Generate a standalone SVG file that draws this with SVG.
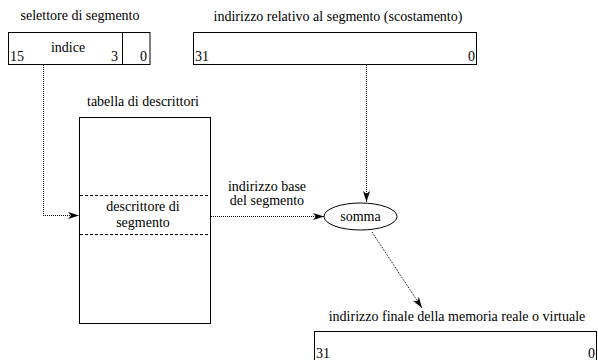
<svg xmlns="http://www.w3.org/2000/svg" width="598" height="360" viewBox="0 0 598 360">
<defs>
<marker id="ah" markerWidth="12" markerHeight="8" refX="11" refY="4" orient="auto" markerUnits="userSpaceOnUse">
<path d="M0,0.5 L11,4 L0,7.5 L3,4 z" fill="#000"/>
</marker>
</defs>
<rect width="598" height="360" fill="#fff"/>
<g id="selettore">
<text x="80" y="20" font-family="Liberation Serif" font-size="14" text-anchor="middle">selettore di segmento</text>
<rect x="8.5" y="32.5" width="141.5" height="32" fill="#fff" stroke="#000"/>
<line x1="122.5" y1="32.5" x2="122.5" y2="64.5" stroke="#000"/>
<text x="68" y="52" font-family="Liberation Serif" font-size="14" text-anchor="middle">indice</text>
<text x="10" y="61" font-family="Liberation Serif" font-size="14">15</text>
<text x="118" y="61" font-family="Liberation Serif" font-size="14" text-anchor="end">3</text>
<text x="147" y="61" font-family="Liberation Serif" font-size="14" text-anchor="end">0</text>
</g>
<g id="scostamento">
<text x="338" y="21" font-family="Liberation Serif" font-size="14" text-anchor="middle">indirizzo relativo al segmento (scostamento)</text>
<rect x="193.5" y="32.5" width="283" height="32" fill="#fff" stroke="#000"/>
<text x="195" y="61" font-family="Liberation Serif" font-size="14">31</text>
<text x="475" y="61" font-family="Liberation Serif" font-size="14" text-anchor="end">0</text>
</g>
<g id="tabella">
<text x="143" y="106" font-family="Liberation Serif" font-size="14" text-anchor="middle">tabella di descrittori</text>
<rect x="79.5" y="117.5" width="131" height="206" fill="#fff" stroke="#000"/>
<line x1="80" y1="195.5" x2="210" y2="195.5" stroke="#000" stroke-dasharray="3 2"/>
<line x1="80" y1="234.5" x2="210" y2="234.5" stroke="#000" stroke-dasharray="3 2"/>
<text x="143" y="211" font-family="Liberation Serif" font-size="14" text-anchor="middle">descrittore di</text>
<text x="143" y="227" font-family="Liberation Serif" font-size="14" text-anchor="middle">segmento</text>
</g>
<g id="somma">
<ellipse cx="360.5" cy="216.5" rx="36.5" ry="13.5" fill="#fff" stroke="#000"/>
<text x="360.5" y="221" font-family="Liberation Serif" font-size="14" text-anchor="middle">somma</text>
</g>
<g id="finale">
<text x="457" y="321" font-family="Liberation Serif" font-size="14" text-anchor="middle">indirizzo finale della memoria reale o virtuale</text>
<rect x="314.5" y="331.5" width="282" height="40" fill="#fff" stroke="#000"/>
<text x="316" y="358" font-family="Liberation Serif" font-size="14">31</text>
<text x="595" y="358" font-family="Liberation Serif" font-size="14" text-anchor="end">0</text>
</g>
<g id="connectors" fill="none" stroke="#000" stroke-dasharray="1 1">
<line x1="43.5" y1="65" x2="43.5" y2="215"/>
<line x1="43" y1="215.5" x2="79" y2="215.5" marker-end="url(#ah)"/>
<line x1="366.5" y1="65" x2="366.5" y2="202" marker-end="url(#ah)"/>
<line x1="211" y1="216.5" x2="324" y2="216.5" marker-end="url(#ah)"/>
<line x1="372" y1="232" x2="422" y2="308" marker-end="url(#ah)"/>
<text x="267" y="191" font-family="Liberation Serif" font-size="14" text-anchor="middle" fill="#000" stroke="none">indirizzo base</text>
<text x="267" y="205" font-family="Liberation Serif" font-size="14" text-anchor="middle" fill="#000" stroke="none">del segmento</text>
</g>
</svg>
